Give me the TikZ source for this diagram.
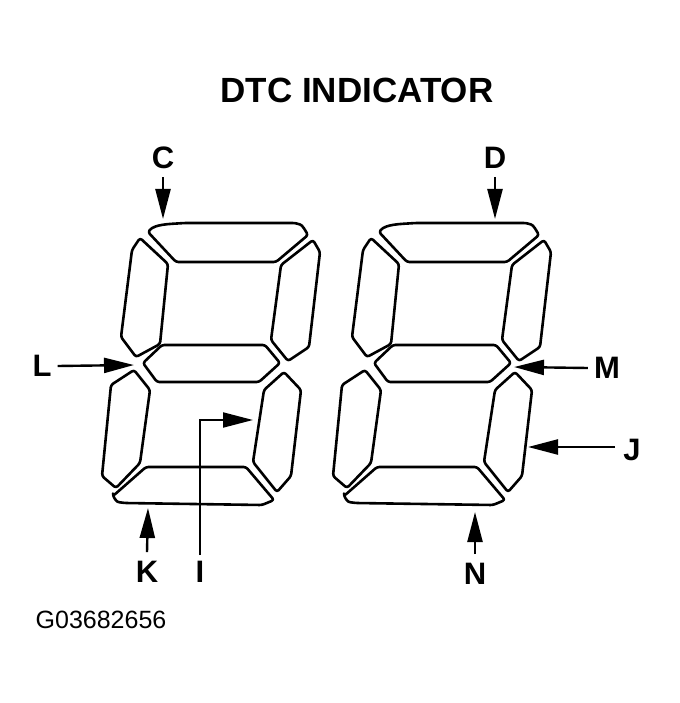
\documentclass[tikz,border=0pt]{standalone}
\usepackage{fontspec}
\setmainfont{Liberation Sans}
\usetikzlibrary{arrows.meta}
\begin{document}
\begin{tikzpicture}[x=1pt,y=-1pt,
  seg/.style={line width=2.6pt,line join=round,rounded corners=2.5pt},
  lab/.style={font=\fontsize{31}{31}\selectfont\bfseries,inner sep=0pt},
  arr/.style={line width=2.4pt,-{Triangle[length=30pt,width=15pt]}},
  pics/digit/.style={code={
    \draw[seg] (148,232) .. controls (155,224) and (170,224) .. (185,223) -- (295,223) .. controls (302,225) .. (308,235) -- (276,262) -- (176,262) -- cycle;
    \draw[seg] (140,238) -- (168,264) -- (160,344) -- (136,357) -- (121,337) -- (132,250) -- cycle;
    \draw[seg] (313,240) -- (320,252) -- (309,347) -- (288,361) -- (271,340) -- (281,265) -- cycle;
    \draw[seg] (143,363) -- (162,345) -- (265,345) -- (280,363) -- (259,382) -- (157,382) -- cycle;
    \draw[seg] (134,370) -- (150,390) -- (140,463) -- (116,488) -- (102,476) -- (111,385) -- cycle;
    \draw[seg] (284,372) -- (301,390) -- (291,476) -- (277,492) -- (253,462) -- (264,390) -- cycle;
    \draw[seg] (113,496) -- (146,467) -- (246,467) -- (274,500) -- (262,505) -- (125,503) .. controls (117,502) .. cycle;
  }}]
\useasboundingbox (0,0) rectangle (679,703);
\pic (d1) at (0,0) {digit};
\pic (d2) at (231,0) {digit};
\node[lab,font=\fontsize{35}{35}\selectfont\bfseries] (title) at (357,90) {DTC INDICATOR};
\node[lab] (C) at (163,158) {C};
\node[lab] (D) at (495,158) {D};
\node[lab] (L) at (42,366) {L};
\node[lab] (M) at (607,368) {M};
\node[lab] (J) at (632,450) {J};
\node[lab] (K) at (147,572) {K};
\node[lab] (I) at (200,572) {I};
\node[lab] (N) at (475,574) {N};
\node[font=\fontsize{25}{25}\selectfont,inner sep=0pt] (G) at (101,620) {G03682656};
\coordinate (ct) at (163,219);
\coordinate (dt) at (495,219);
\coordinate (lt) at (134,365);
\coordinate (mt) at (514,367);
\coordinate (jt) at (528,447);
\coordinate (kt) at (148,508);
\coordinate (nt) at (475,512);
\coordinate (ib) at (200,420);
\coordinate (it) at (253,420);
\draw[arr] (C.south) ++(0,8) -- (ct);
\draw[arr] (D.south) ++(0,8) -- (dt);
\draw[arr] (L.east) ++(6,0) -- (lt);
\draw[arr] (M.west) ++(-6,0) -- (mt);
\draw[arr] (J.west) ++(-8,-3) -- (jt);
\draw[arr] (K.north) ++(0,-9) -- (kt);
\draw[arr] (N.north) ++(0,-9) -- (nt);
\draw[line width=2pt,-{Triangle[length=30pt,width=15pt]}] (I.north) ++(0,-6) -- (ib) -- (it);
\end{tikzpicture}
\end{document}
